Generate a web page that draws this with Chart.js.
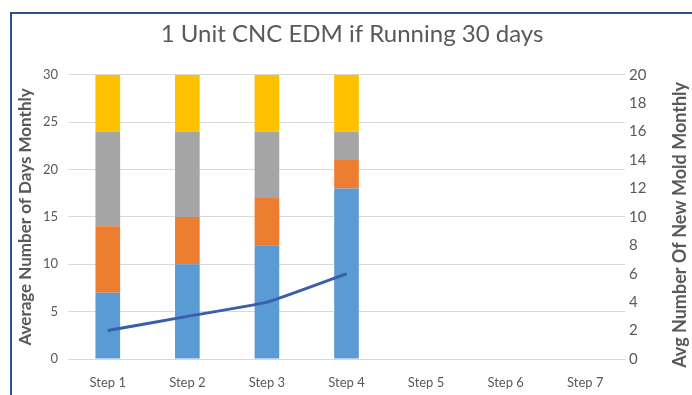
<!DOCTYPE html>
<html>
<head>
<meta charset="utf-8">
<script src="https://cdn.jsdelivr.net/npm/chart.js@4/dist/chart.umd.min.js"></script>
<style>
    body { margin: 0; background: #ffffff; }
    #wrap {
        position: absolute; left: 10px; top: 12px;
        width: 680px; height: 381px;
        border-top: 2px solid #2f4f8f;
        border-left: 2px solid #2f4f8f;
        background: #ffffff;
    }
</style>
</head>
<body>
<div id="wrap"><canvas id="chart" width="680" height="381"></canvas></div>
<script>
    // Categories and values
    const steps = ['Step 1', 'Step 2', 'Step 3', 'Step 4', 'Step 5', 'Step 6', 'Step 7'];
    const blueDays = [7, 10, 12, 18, null, null, null];
    const orangeDays = [7, 5, 5, 3, null, null, null];
    const grayDays = [10, 9, 7, 3, null, null, null];
    const yellowDays = [6, 6, 6, 6, null, null, null];
    const newMolds = [2, 3, 4, 6, null, null, null];

    const textColor = '#595959';
    const fontName = 'Lato, "Open Sans", sans-serif';

    function bar(label, data, color) {
        return {
            type: 'bar',
            label: label,
            data: data,
            backgroundColor: color,
            yAxisID: 'y',
            stack: 'days',
            barPercentage: 0.31,
            categoryPercentage: 1.0,
            order: 2
        };
    }

    // right axis title reads bottom-to-top like the left one
    const rightTitle = {
        id: 'rightTitle',
        afterDraw(chart) {
            const ctx = chart.ctx;
            const area = chart.chartArea;
            ctx.save();
            ctx.translate(668, (area.top + area.bottom) / 2 + 8);
            ctx.rotate(-Math.PI / 2);
            ctx.fillStyle = textColor;
            ctx.font = 'bold 18px ' + fontName;
            ctx.textAlign = 'center';
            ctx.textBaseline = 'middle';
            ctx.fillText('Avg Number Of New Mold Monthly', 0, 0);
            ctx.restore();
        }
    };

    new Chart(document.getElementById('chart').getContext('2d'), {
        data: {
            labels: steps,
            datasets: [
                {
                    type: 'line',
                    label: 'New Mold',
                    data: newMolds,
                    yAxisID: 'y1',
                    borderColor: '#3a5eab',
                    borderWidth: 3,
                    pointRadius: 0,
                    tension: 0.15,
                    order: 1
                },
                bar('Blue', blueDays, '#5b9bd5'),
                bar('Orange', orangeDays, '#ed7d31'),
                bar('Gray', grayDays, '#a5a5a5'),
                bar('Yellow', yellowDays, '#ffc000')
            ]
        },
        options: {
            responsive: false,
            animation: false,
            layout: { padding: 0 },
            plugins: {
                legend: { display: false },
                tooltip: { enabled: false },
                title: {
                    display: true,
                    text: '1 Unit CNC EDM if Running 30 days',
                    color: textColor,
                    font: { family: fontName, size: 24, weight: 'normal' },
                    padding: { top: 6, bottom: 26 }
                }
            },
            scales: {
                x: {
                    stacked: true,
                    grid: { display: false },
                    border: { color: '#d9d9d9' },
                    ticks: { color: textColor, font: { family: fontName, size: 13 }, padding: 8 },
                    afterFit: function(axis) { axis.height = 36; }
                },
                y: {
                    stacked: true,
                    position: 'left',
                    min: 0,
                    max: 30,
                    ticks: { stepSize: 5, color: textColor, font: { family: fontName, size: 13 }, padding: 10 },
                    grid: { color: '#d9d9d9', drawTicks: false },
                    border: { display: false },
                    title: {
                        display: true,
                        text: 'Average Number of Days Monthly',
                        color: textColor,
                        font: { family: fontName, size: 17, weight: 'bold' },
                        padding: { top: 3, bottom: 0 }
                    },
                    afterFit: function(axis) { axis.width = 56; }
                },
                y1: {
                    position: 'right',
                    min: 0,
                    max: 20,
                    ticks: { stepSize: 2, color: textColor, font: { family: fontName, size: 15 }, padding: 4 },
                    grid: { display: false, drawTicks: false },
                    border: { display: false },
                    title: { display: false },
                    afterFit: function(axis) { axis.width = 67; }
                }
            }
        },
        plugins: [rightTitle]
    });
</script>
</body>
</html>
